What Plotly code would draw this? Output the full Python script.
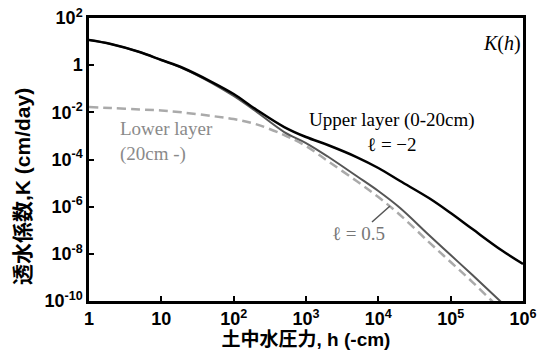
import plotly.graph_objects as go

# pressure head h (-cm)
h = [1, 2, 5, 10, 20, 50, 100, 200, 500, 1e3, 2e3, 5e3, 1e4, 2e4, 5e4, 1e5, 2e5, 5e5, 1e6]

# Upper layer (0-20cm), l = -2
K_upper = [11.67, 7.89, 3.61, 1.656, 0.759, 0.193, 0.0598, 0.01384, 2.38e-3, 8.97e-4,
           4.11e-4, 1.27e-4, 4.36e-5, 1.22e-5, 2.32e-6, 5.37e-7, 1.12e-7, 1.45e-8, 3.69e-9]
# Upper layer, l = 0.5
K_upper_l05 = [11.67, 7.89, 3.61, 1.656, 0.721, 0.175, 0.0492, 0.01138, 1.46e-3, 5.0e-4,
               1.34e-4, 1.99e-5, 4.60e-6, 8.75e-7, 6.27e-8, 8.89e-9, 1.26e-9, 9.0e-11, 1.16e-11]
# Lower layer (20cm -)
K_lower = [0.01683, 0.01524, 0.01318, 0.01194, 9.84e-3, 6.98e-3, 5.21e-3, 3.20e-3, 1.09e-3, 3.73e-4,
           8.63e-5, 1.22e-5, 2.56e-6, 4.42e-7, 3.16e-8, 4.49e-9, 6.37e-10, 4.13e-11, 5.32e-12]

x_tickvals = [1, 10, 100, 1e3, 1e4, 1e5, 1e6]
x_ticktext = ["<b>1</b>", "<b>10</b>", "<b>10<sup>2</sup></b>", "<b>10<sup>3</sup></b>", "<b>10<sup>4</sup></b>",
              "<b>10<sup>5</sup></b>", "<b>10<sup>6</sup></b>"]
y_tickvals = [1e2, 1, 1e-2, 1e-4, 1e-6, 1e-8, 1e-10]
y_ticktext = ["<b>10<sup>2</sup></b>", "<b>1</b>", "<b>10<sup>-2</sup></b>", "<b>10<sup>-4</sup></b>",
              "<b>10<sup>-6</sup></b>", "<b>10<sup>-8</sup></b>", "<b>10<sup>-10</sup></b>"]

fig = go.Figure()
fig.add_trace(go.Scatter(x=h, y=K_lower, mode="lines", line=dict(color="#aaaaaa", width=2.5, dash="9px,5px", shape="spline"),
                         showlegend=False, hoverinfo="skip"))
fig.add_trace(go.Scatter(x=h, y=K_upper_l05, mode="lines", line=dict(color="#555555", width=2, shape="spline"),
                         showlegend=False, hoverinfo="skip"))
fig.add_trace(go.Scatter(x=h, y=K_upper, mode="lines", line=dict(color="#000000", width=2.5, shape="spline"),
                         showlegend=False, hoverinfo="skip"))

serif = "Liberation Serif, Times New Roman, serif"
tickfont = dict(family="Liberation Sans, Arial, sans-serif", size=18, color="black")
xtitlefont = dict(family="Liberation Sans, Noto Sans CJK JP, sans-serif", size=19, color="black")
ytitlefont = dict(family="Liberation Sans, Noto Sans CJK JP, sans-serif", size=21, color="black")

fig.update_layout(
    width=542, height=356,
    margin=dict(l=89, r=19, t=18, b=55),
    paper_bgcolor="white", plot_bgcolor="white",
    xaxis=dict(type="log", range=[0, 6], showline=True, mirror=True, linecolor="black", linewidth=2.5,
               ticks="inside", ticklen=5, tickwidth=2, tickcolor="black", showgrid=False, zeroline=False,
               tickvals=x_tickvals, ticktext=x_ticktext, tickfont=tickfont, automargin=False,
               ticklabeloverflow="allow",
               title=dict(text="<b>土中水圧力, h (-cm)</b>", font=xtitlefont, standoff=0)),
    yaxis=dict(type="log", range=[-10, 2], showline=True, mirror=True, linecolor="black", linewidth=2.5,
               ticks="inside", ticklen=5, tickwidth=2, tickcolor="black", showgrid=False, zeroline=False,
               tickvals=y_tickvals, ticktext=y_ticktext, tickfont=tickfont, automargin=False,
               ticklabeloverflow="allow"),
)

# y-axis title (placed like the original, slightly below the plot centre)
fig.add_annotation(xref="paper", yref="paper", x=(22 - 89) / 434, y=(301 - 187) / 283,
                   xanchor="center", yanchor="middle", textangle=-90, showarrow=False,
                   text="<b>透水係数,K (cm/day)</b>", font=ytitlefont)
fig.add_annotation(xref="paper", yref="paper", x=0.952, y=0.91, xanchor="center", yanchor="middle",
                   text="<i>K</i>(<i>h</i>)", showarrow=False, font=dict(family=serif, size=20, color="black"))
fig.add_annotation(xref="paper", yref="paper", x=0.698, y=0.597, xanchor="center", yanchor="middle",
                   text="Upper layer (0-20cm)<br>ℓ = −2",
                   showarrow=False, align="center", font=dict(family=serif, size=19, color="black"))
fig.add_annotation(xref="paper", yref="paper", x=0.067, y=0.562, xanchor="left", yanchor="middle",
                   text="Lower layer<br>(20cm -)", showarrow=False, align="left",
                   font=dict(family=serif, size=19, color="#8a8a8a"))
fig.add_annotation(xref="paper", yref="paper", x=0.62, y=0.24, xanchor="center", yanchor="middle",
                   text="ℓ = 0.5", showarrow=False, font=dict(family=serif, size=19, color="#777777"))
fig.add_shape(type="line", xref="paper", yref="paper", x0=(372 - 89) / 434, y0=(301 - 222) / 283,
              x1=(390 - 89) / 434, y1=(301 - 206) / 283, line=dict(color="#555555", width=1.5))

fig.write_html("out.html", config={"displayModeBar": False},
               post_script="document.body.style.margin='0';")
